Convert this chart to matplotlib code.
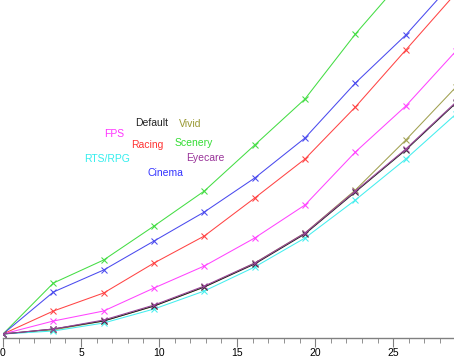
import numpy as np
import matplotlib
matplotlib.use("Agg")
import matplotlib.pyplot as plt
from matplotlib.ticker import MultipleLocator

plt.rcParams['font.family'] = ['Liberation Sans', 'DejaVu Sans']

# marker positions along x
xs = [0, 3.23, 6.45, 9.68, 12.9, 16.13, 19.35, 22.58, 25.81, 29.03]

# curve heights (no y scale shown in the picture, so arbitrary units)
scenery = [4, 55, 78, 112, 147, 193, 239, 304, 362, 424]
cinema  = [4, 46, 68, 97, 126, 160, 200, 255, 303, 359]
racing  = [4, 27, 45, 75, 102, 140, 179, 231, 288, 345]
fps     = [4, 17, 27, 50, 72, 100, 133, 186, 232, 287]
vivid   = [4, 8, 17, 32, 51, 75, 105, 148, 198, 251]
rtsrpg  = [4, 7, 15, 29, 47, 71, 100, 138, 179, 224]
default = [4, 9, 17, 32, 51, 74, 104, 146, 188, 235]
eyecare = [4, 9, 18, 33, 52, 75, 105, 147, 189, 236]

series = [
    ("Scenery", scenery, "#44dd44"),
    ("Cinema", cinema, "#4a4aee"),
    ("Racing", racing, "#ff4444"),
    ("FPS", fps, "#ff44ff"),
    ("Vivid", vivid, "#a0a050"),
    ("RTS/RPG", rtsrpg, "#44eeee"),
    ("Default", default, "#222222"),
    ("Eyecare", eyecare, "#994499"),
]

# label positions in axes fraction (x, y)
labels = {
    "Default": (0.330, 0.636, "#222222"),
    "Vivid":   (0.415, 0.633, "#999933"),
    "FPS":     (0.247, 0.604, "#ff33ff"),
    "Racing":  (0.320, 0.571, "#ff3333"),
    "Scenery": (0.424, 0.578, "#33dd33"),
    "RTS/RPG": (0.230, 0.529, "#33eeee"),
    "Eyecare": (0.448, 0.532, "#993399"),
    "Cinema":  (0.360, 0.489, "#3333ff"),
}

fig = plt.figure(figsize=(4.54, 3.57), dpi=100)
ax = fig.add_axes([3/454, 19/357, 451/454, 338/357])

for name, ys, c in series:
    ax.plot(xs, ys, color=c, lw=0.75, marker="x", ms=4, mew=0.75)

for name, (tx, ty, c) in labels.items():
    ax.text(tx, ty, name, color=c, size=7.5, ha="center", va="center",
            transform=ax.transAxes)

ax.set_xlim(0, 28.9)
ax.set_ylim(0, 338)
for s in ["top", "right", "left"]:
    ax.spines[s].set_visible(False)
ax.spines["bottom"].set_color("#808080")
ax.spines["bottom"].set_linewidth(1)
ax.set_yticks([])
ax.xaxis.set_major_locator(MultipleLocator(5))
ax.xaxis.set_minor_locator(MultipleLocator(1))
ax.tick_params(axis="x", which="major", length=6.5, color="#808080", labelsize=7.5, pad=0.5)
ax.tick_params(axis="x", which="minor", length=3.5, color="#808080")

fig.savefig("out.png", dpi=100)
